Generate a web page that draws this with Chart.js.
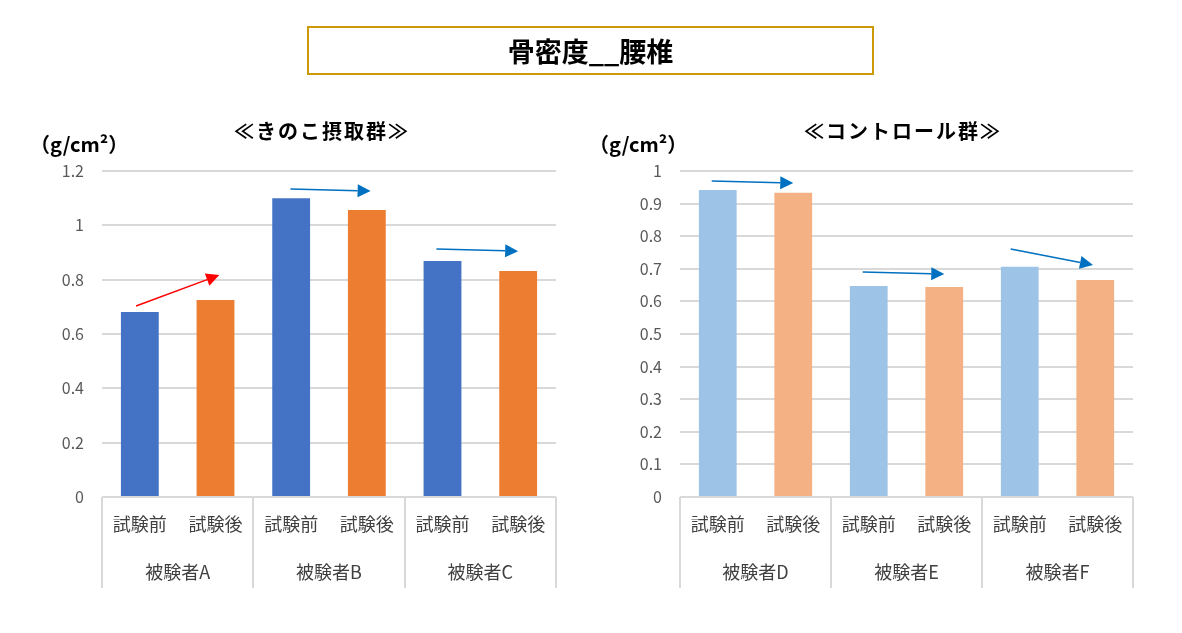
<!DOCTYPE html>
<html><head><meta charset="utf-8">
<script src="https://cdn.jsdelivr.net/npm/chart.js@4.4.1/dist/chart.umd.min.js"></script>
<style>
html,body{margin:0;padding:0;background:#fff;}
#wrap{position:relative;width:1182px;height:633px;overflow:hidden;font-family:"Noto Sans CJK JP","Noto Sans",sans-serif;}
canvas{position:absolute;top:0;}
#titleBox{position:absolute;left:307px;top:26px;width:563px;height:45px;border:2px solid #CC9A06;display:flex;align-items:center;justify-content:center;font-weight:bold;font-size:27px;color:#000;z-index:2;}
.sub{position:absolute;width:360px;text-align:center;font-weight:bold;font-size:20px;line-height:30px;letter-spacing:2px;color:#000;z-index:2;}
.unit{position:absolute;font-weight:bold;font-size:20px;line-height:30px;color:#000;z-index:2;}
</style></head>
<body>
<div id="wrap">
  <div id="titleBox">骨密度__腰椎</div>
  <div class="sub" style="left:142px;top:116px;">≪きのこ摂取群≫</div>
  <div class="sub" style="left:723px;top:116px;">≪コントロール群≫</div>
  <div class="unit" style="left:30px;top:129px;">（g/cm²）</div>
  <div class="unit" style="left:589px;top:129px;">（g/cm²）</div>
  <canvas id="c1" width="590" height="633" style="left:0px;"></canvas>
  <canvas id="c2" width="592" height="633" style="left:590px;"></canvas>
</div>
<script>
// ---- data ----
const subLabels = ['試験前','試験後','試験前','試験後','試験前','試験後'];
const groupsLeft = ['被験者A','被験者B','被験者C'];
const groupsRight = ['被験者D','被験者E','被験者F'];
const valuesLeft = [0.681, 0.725, 1.100, 1.056, 0.869, 0.832];
const valuesRight = [0.942, 0.933, 0.647, 0.644, 0.706, 0.666];
const colorsLeft = ['#4472C4','#ED7D31'];
const colorsRight = ['#9DC3E6','#F4B183'];
const yMaxLeft = 1.2, yStepLeft = 0.2;
const yMaxRight = 1.0, yStepRight = 0.1;
// arrows: [fromIndex, fromValue, toIndex, toValue, color]
const arrowsLeft = [
  [-0.05, 0.703, 1.05, 0.817, '#FF0000'],
  [1.99, 1.134, 3.05, 1.126, '#0070C0'],
  [3.92, 0.913, 5.0, 0.905, '#0070C0']
];
const arrowsRight = [
  [-0.08, 0.969, 1.0, 0.963, '#0070C0'],
  [1.92, 0.690, 3.0, 0.684, '#0070C0'],
  [3.88, 0.761, 4.97, 0.712, '#0070C0']
];

const FONT = '"Noto Sans CJK JP", "Noto Sans", sans-serif';

const groupAxisPlugin = {
  id: 'groupAxis',
  afterDraw(chart, args, opts) {
    const ctx = chart.ctx, x = chart.scales.x, a = chart.chartArea;
    ctx.save();
    ctx.strokeStyle = '#D9D9D9';
    ctx.lineWidth = 2;
    const ng = opts.groups.length;
    for (let g = 0; g <= ng; g++) {
      const px = Math.round(x.getPixelForValue(g * 2 - 0.5));
      ctx.beginPath();
      ctx.moveTo(px, a.bottom);
      ctx.lineTo(px, a.bottom + 91);
      ctx.stroke();
    }
    ctx.fillStyle = '#404040';
    ctx.textAlign = 'center';
    ctx.textBaseline = 'middle';
    ctx.font = '18px ' + FONT;
    chart.data.labels.forEach((l, i) => {
      ctx.fillText(l, x.getPixelForValue(i), a.bottom + 27);
    });
    ctx.font = '18px ' + FONT;
    opts.groups.forEach((g, i) => {
      ctx.fillText(g, x.getPixelForValue(i * 2 + 0.5), a.bottom + 75);
    });
    ctx.restore();
  }
};

const arrowPlugin = {
  id: 'arrows',
  afterDatasetsDraw(chart, args, opts) {
    const ctx = chart.ctx, x = chart.scales.x, y = chart.scales.y;
    ctx.save();
    opts.list.forEach(([i0, v0, i1, v1, col]) => {
      const x0 = x.getPixelForValue(i0), y0 = y.getPixelForValue(v0);
      const x1 = x.getPixelForValue(i1), y1 = y.getPixelForValue(v1);
      const ang = Math.atan2(y1 - y0, x1 - x0);
      const hl = 13, hw = 6.5;
      const bx = x1 - hl * Math.cos(ang), by = y1 - hl * Math.sin(ang);
      ctx.strokeStyle = col; ctx.fillStyle = col; ctx.lineWidth = 1.5;
      ctx.beginPath(); ctx.moveTo(x0, y0); ctx.lineTo(bx, by); ctx.stroke();
      ctx.beginPath();
      ctx.moveTo(x1, y1);
      ctx.lineTo(bx + hw * Math.sin(ang), by - hw * Math.cos(ang));
      ctx.lineTo(bx - hw * Math.sin(ang), by + hw * Math.cos(ang));
      ctx.closePath(); ctx.fill();
    });
    ctx.restore();
  }
};

function makeChart(id, values, colors, groups, arrows, yMax, yStep, axisW, padRight) {
  return new Chart(document.getElementById(id), {
    type: 'bar',
    data: {
      labels: subLabels,
      datasets: [{
        data: values,
        backgroundColor: values.map((v, i) => colors[i % 2]),
        borderWidth: 0,
        categoryPercentage: 1.0,
        barPercentage: 0.5
      }]
    },
    plugins: [groupAxisPlugin, arrowPlugin],
    options: {
      responsive: false,
      animation: false,
      layout: { padding: { top: 171, right: padRight, bottom: 0, left: 0 } },
      plugins: {
        legend: { display: false },
        tooltip: { enabled: false },
        title: { display: false },
        groupAxis: { groups: groups },
        arrows: { list: arrows }
      },
      scales: {
        x: {
          ticks: { display: false },
          grid: { display: false, drawTicks: false },
          border: { display: false },
          afterFit(s) { s.height = 136; }
        },
        y: {
          min: 0, max: yMax,
          ticks: {
            stepSize: yStep,
            padding: 18,
            color: '#595959',
            font: { family: FONT, size: 16 },
            callback: (v) => String(Number(v.toFixed(2)))
          },
          grid: { color: '#D9D9D9', lineWidth: 2, drawTicks: false },
          border: { display: false },
          afterFit(s) { s.width = axisW; }
        }
      }
    }
  });
}

makeChart('c1', valuesLeft, colorsLeft, groupsLeft, arrowsLeft, yMaxLeft, yStepLeft, 102, 34);
makeChart('c2', valuesRight, colorsRight, groupsRight, arrowsRight, yMaxRight, yStepRight, 90, 49);
</script>
</body></html>
